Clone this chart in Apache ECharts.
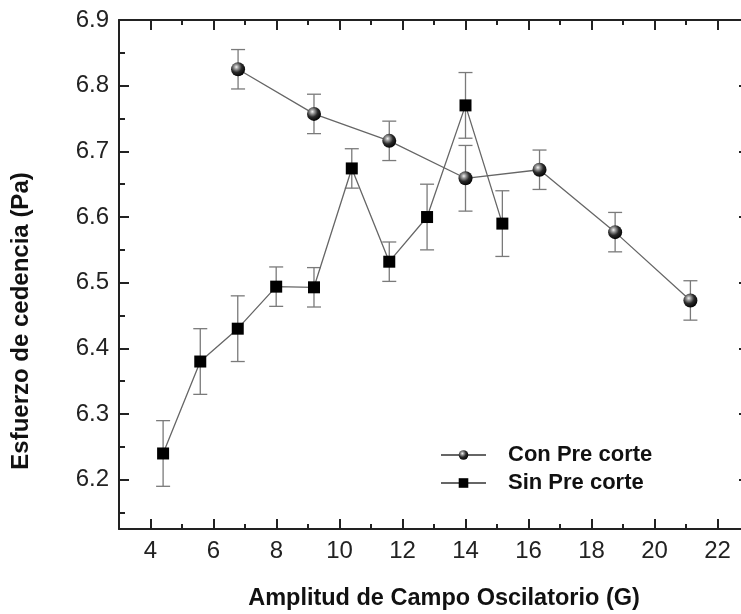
<!DOCTYPE html>
<html>
<head>
<meta charset="utf-8">
<script src="https://cdn.jsdelivr.net/npm/echarts@6/dist/echarts.min.js"></script>
<style>
html,body{margin:0;padding:0;background:#fff;overflow:hidden;}
#chart{width:749px;height:614px;}
</style>
</head>
<body>
<div id="chart"></div>
<script>
// ---- data ----
const conName = 'Con Pre corte';
const conX   = [6.78, 9.19, 11.58, 14.0, 16.35, 18.75, 21.14];
const conY   = [6.825, 6.757, 6.716, 6.659, 6.672, 6.577, 6.473];
const conErr = [0.03, 0.03, 0.03, 0.05, 0.03, 0.03, 0.03];

const sinName = 'Sin Pre corte';
const sinX   = [4.40, 5.58, 6.77, 7.99, 9.19, 10.39, 11.58, 12.78, 14.0, 15.17];
const sinY   = [6.240, 6.380, 6.430, 6.494, 6.493, 6.674, 6.532, 6.600, 6.770, 6.590];
const sinErr = [0.05, 0.05, 0.05, 0.03, 0.03, 0.03, 0.03, 0.05, 0.05, 0.05];

const xMajorTicks = [4, 6, 8, 10, 12, 14, 16, 18, 20, 22];
const xMinorTicks = [5, 7, 9, 11, 13, 15, 17, 19, 21];
const yMajorTicks = [6.2, 6.3, 6.4, 6.5, 6.6, 6.7, 6.8, 6.9];
const yMinorTicks = [6.15, 6.25, 6.35, 6.45, 6.55, 6.65, 6.75, 6.85];

const xTitle = 'Amplitud de Campo Oscilatorio (G)';
const yTitle = 'Esfuerzo de cedencia (Pa)';

// ---- build ----
const FONT = "'Liberation Sans', Arial, Helvetica, sans-serif";
const AXIS_COLOR = '#222';
const xMin = 3, xMax = 23, yMin = 6.125, yMax = 6.9;

function pairs(xs, ys) { return xs.map((x, i) => [x, ys[i]]); }
function errData(xs, ys, es) { return xs.map((x, i) => [x, ys[i] - es[i], ys[i] + es[i]]); }

function renderErr(params, api) {
  const x = api.value(0), lo = api.value(1), hi = api.value(2);
  const pLo = api.coord([x, lo]);
  const pHi = api.coord([x, hi]);
  const w = 7;
  const style = { stroke: '#7a7a7a', lineWidth: 1.3 };
  return {
    type: 'group',
    children: [
      { type: 'line', shape: { x1: pLo[0], y1: pLo[1], x2: pHi[0], y2: pHi[1] }, style },
      { type: 'line', shape: { x1: pLo[0] - w, y1: pLo[1], x2: pLo[0] + w, y2: pLo[1] }, style },
      { type: 'line', shape: { x1: pHi[0] - w, y1: pHi[1], x2: pHi[0] + w, y2: pHi[1] }, style }
    ]
  };
}

const sphere = {
  type: 'radial', x: 0.38, y: 0.34, r: 0.7,
  colorStops: [
    { offset: 0, color: '#f4f4f4' },
    { offset: 0.22, color: '#9a9a9a' },
    { offset: 0.55, color: '#2a2a2a' },
    { offset: 1, color: '#000' }
  ]
};

function xAxisDef(pos, ticks, len, showLine, showLabel) {
  return {
    type: 'value', position: pos, min: xMin, max: xMax, gridIndex: 0,
    axisLine: { show: showLine, onZero: false, lineStyle: { color: AXIS_COLOR, width: 2 } },
    axisTick: { show: true, inside: true, length: len, customValues: ticks, lineStyle: { color: AXIS_COLOR, width: 2 } },
    axisLabel: showLabel ? { show: true, customValues: ticks, fontSize: 24, color: '#222', fontFamily: FONT, margin: 10 } : { show: false },
    splitLine: { show: false }
  };
}
function yAxisDef(pos, ticks, len, showLine, showLabel) {
  return {
    type: 'value', position: pos, min: yMin, max: yMax, gridIndex: 0,
    axisLine: { show: showLine, onZero: false, lineStyle: { color: AXIS_COLOR, width: 2 } },
    axisTick: { show: true, inside: true, length: len, customValues: ticks, lineStyle: { color: AXIS_COLOR, width: 2 } },
    axisLabel: showLabel ? { show: true, customValues: ticks, fontSize: 24, color: '#222', fontFamily: FONT, margin: 10,
      formatter: v => v.toFixed(1) } : { show: false },
    splitLine: { show: false }
  };
}

const option = {
  backgroundColor: '#fff',
  animation: false,
  grid: { left: 119, top: 20, right: 0, bottom: 85, containLabel: false },
  xAxis: [
    xAxisDef('bottom', xMajorTicks, 10, true, true),
    xAxisDef('bottom', xMinorTicks, 5, false, false),
    xAxisDef('top', xMajorTicks, 10, true, false),
    xAxisDef('top', xMinorTicks, 5, false, false)
  ],
  yAxis: [
    yAxisDef('left', yMajorTicks, 10, true, true),
    yAxisDef('left', yMinorTicks, 6, false, false),
    yAxisDef('right', yMajorTicks, 10, true, false),
    yAxisDef('right', yMinorTicks, 6, false, false)
  ],
  legend: {
    orient: 'vertical', left: 440, top: 443, padding: 0,
    itemWidth: 45, itemHeight: 12, itemGap: 4,
    data: [conName, sinName],
    textStyle: { fontSize: 22, fontWeight: 'bold', color: '#111', fontFamily: FONT, lineHeight: 24, padding: [0, 0, 0, 17] }
  },
  graphic: [
    { type: 'text', x: 444, y: 599,
      style: { text: xTitle, textAlign: 'center', textVerticalAlign: 'middle',
        fontSize: 23.5, fontWeight: 'bold', fill: '#111', fontFamily: FONT } },
    { type: 'text', x: 21, y: 321, rotation: Math.PI / 2,
      style: { text: yTitle, textAlign: 'center', textVerticalAlign: 'middle',
        fontSize: 24, fontWeight: 'bold', fill: '#111', fontFamily: FONT } }
  ],
  series: [
    { type: 'custom', name: conName + ' err', renderItem: renderErr, data: errData(conX, conY, conErr),
      encode: { x: 0, y: [1, 2] }, z: 1, silent: true },
    { type: 'custom', name: sinName + ' err', renderItem: renderErr, data: errData(sinX, sinY, sinErr),
      encode: { x: 0, y: [1, 2] }, z: 1, silent: true },
    { type: 'line', name: conName, data: pairs(conX, conY), symbol: 'circle', symbolSize: 14,
      lineStyle: { color: '#666', width: 1.3 }, itemStyle: { color: sphere, borderWidth: 0 }, z: 3 },
    { type: 'line', name: sinName, data: pairs(sinX, sinY), symbol: 'rect', symbolSize: 12,
      lineStyle: { color: '#666', width: 1.3 }, itemStyle: { color: '#000', borderWidth: 0 }, z: 4 }
  ]
};

const chart = echarts.init(document.getElementById('chart'), null, { renderer: 'canvas' });
chart.setOption(option);
</script>
</body>
</html>
